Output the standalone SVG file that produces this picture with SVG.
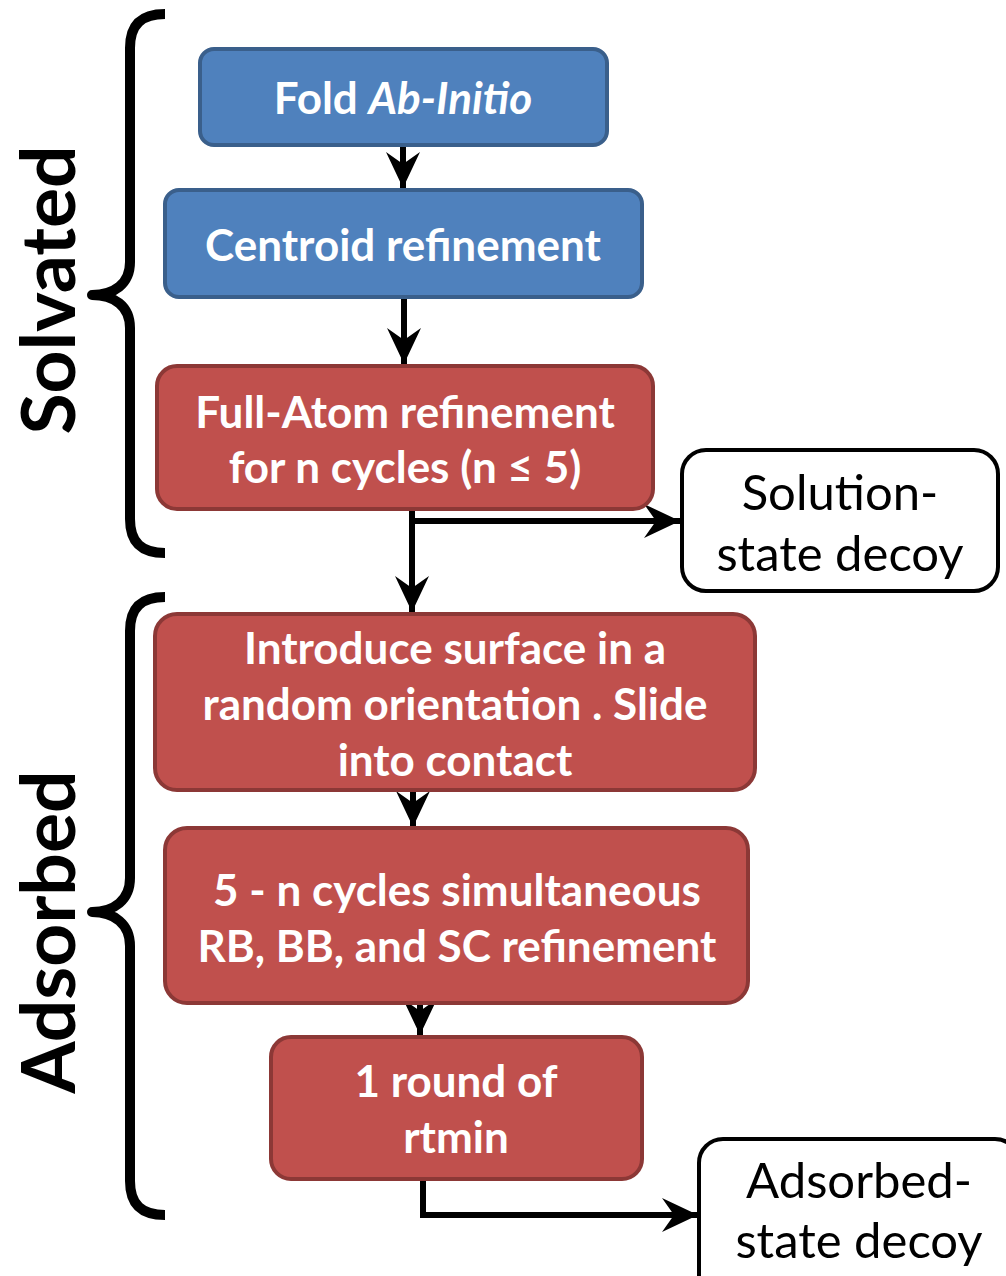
<svg xmlns="http://www.w3.org/2000/svg" width="1006" height="1276" viewBox="0 0 1006 1276">
<style>
.blue{fill:#4f81bd;stroke:#3a5f8b;stroke-width:4}
.red{fill:#c0504d;stroke:#8c3836;stroke-width:4}
.out{fill:#fff;stroke:#000;stroke-width:4}
.wt{font-family:Lato,"Open Sans",sans-serif;font-weight:bold;font-size:44px;fill:#fff;text-anchor:middle}
.bt{font-family:Lato,"Open Sans",sans-serif;font-size:49px;fill:#000;text-anchor:middle}
.lab{font-family:Lato,"Open Sans",sans-serif;font-weight:bold;font-size:75px;fill:#000;text-anchor:middle}
.brace{fill:none;stroke:#000;stroke-width:10;stroke-linejoin:round}
.conn{fill:none;stroke:#000;stroke-width:6}
</style>
<defs>
<marker id="ah" markerUnits="userSpaceOnUse" markerWidth="40" markerHeight="40" viewBox="-38 -20 40 40" refX="0" refY="0" orient="auto">
<path d="M0,0 L-36,-17 L-24,0 L-36,17 Z" fill="#000"/>
</marker>
</defs>
<g id="labels">
<text class="lab" transform="translate(75,290) rotate(-90)">Solvated</text>
<path class="brace" d="M165,14 C142,14 130,24 130,48 L130,262 C130,284 114,295 92,295 C114,295 130,306 130,328 L130,519 C130,543 142,553 165,553"/>
<text class="lab" transform="translate(75,932) rotate(-90)">Adsorbed</text>
<path class="brace" d="M165,597 C142,597 130,607 130,631 L130,878 C130,900 114,912 92,912 C114,912 130,924 130,946 L130,1181 C130,1205 142,1215 165,1215"/>
</g>
<g id="connectors">
<path class="conn" d="M403,146 V188" marker-end="url(#ah)"/>
<path class="conn" d="M404,297 V364" marker-end="url(#ah)"/>
<path class="conn" d="M412,510 V612" marker-end="url(#ah)"/>
<path class="conn" d="M409,521 H680" marker-end="url(#ah)"/>
<path class="conn" d="M413,791 V827" marker-end="url(#ah)"/>
<path class="conn" d="M420,1004 V1035" marker-end="url(#ah)"/>
<path class="conn" d="M423,1180 V1215 H698" marker-end="url(#ah)"/>
</g>
<g id="fold">
<rect class="blue" x="200" y="49" width="407" height="96" rx="14"/>
<text class="wt" x="403" y="114">Fold <tspan font-style="italic">Ab-Initio</tspan></text>
</g>
<g id="centroid">
<rect class="blue" x="165" y="190" width="477" height="107" rx="14"/>
<text class="wt" x="403" y="261">Centroid refinement</text>
</g>
<g id="fullatom">
<rect class="red" x="157" y="366" width="496" height="143" rx="20"/>
<text class="wt" x="405" y="428">Full-Atom refinement</text>
<text class="wt" x="405" y="483">for n cycles (n ≤ 5)</text>
</g>
<g id="solution">
<rect class="out" x="682" y="450" width="316" height="141" rx="24"/>
<text class="bt" x="840" y="510">Solution-</text>
<text class="bt" x="840" y="571">state decoy</text>
</g>
<g id="surface">
<rect class="red" x="155" y="614" width="600" height="176" rx="22"/>
<text class="wt" x="455" y="664">Introduce surface in a</text>
<text class="wt" x="455" y="720">random orientation . Slide</text>
<text class="wt" x="455" y="776">into contact</text>
</g>
<g id="cycles">
<rect class="red" x="165" y="828" width="583" height="175" rx="22"/>
<text class="wt" x="457" y="906">5 - n cycles simultaneous</text>
<text class="wt" x="457" y="962">RB, BB, and SC refinement</text>
</g>
<g id="rtmin">
<rect class="red" x="271" y="1037" width="371" height="142" rx="20"/>
<text class="wt" x="456" y="1097">1 round of</text>
<text class="wt" x="456" y="1153">rtmin</text>
</g>
<g id="adsorbed">
<rect class="out" x="699" y="1139" width="320" height="160" rx="24"/>
<text class="bt" x="859" y="1198">Adsorbed-</text>
<text class="bt" x="859" y="1258">state decoy</text>
</g>
</svg>
